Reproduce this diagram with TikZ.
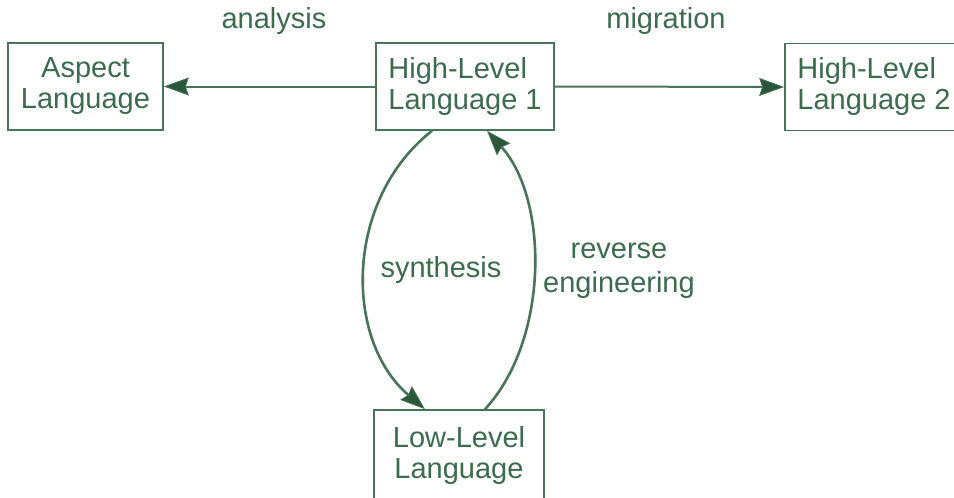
\documentclass[tikz,border=0pt]{standalone}
\usepackage{fontspec}
\setmainfont{Liberation Sans}
\usetikzlibrary{arrows.meta}
\definecolor{txtgreen}{RGB}{60,108,78}
\definecolor{linegreen}{RGB}{72,116,88}
\definecolor{headgreen}{RGB}{44,86,60}
\begin{document}
\begin{tikzpicture}[x=1pt,y=-1pt,
  every node/.style={font=\fontsize{29}{31}\selectfont, text=txtgreen},
  langbox/.style={draw=linegreen, line width=1.6pt, minimum height=87pt, inner sep=0pt},
  lbl/.style={anchor=base, inner sep=0pt},
  tipstyle/.style={-{Stealth[length=25pt,width=18pt,inset=3pt,fill=headgreen,line width=0.8pt]}},
  arr/.style={draw=linegreen, line width=2pt, tipstyle},
  curv/.style={draw=linegreen, line width=2.6pt, tipstyle}]
\useasboundingbox (0,0) rectangle (954,498);
\fill[white] (0,0) rectangle (954,498);
\node[langbox, minimum width=155pt, align=center] (asp) at (85.5,86.5) {Aspect\\Language};
\node[langbox, minimum width=178pt, align=left] (hl1) at (465,86.5) {High-Level\\Language 1};
\node[langbox, minimum width=178pt, align=left] (hl2) at (874,87) {High-Level\\Language 2};
\node[langbox, minimum width=170pt, minimum height=90pt, align=center] (low) at (459,455) {Low-Level\\Language};
\draw[arr] (hl1.west) -- (asp.east);
\draw[arr] (hl1.east) -- (hl2.west);
\draw[curv] ([xshift=-33pt]hl1.south) .. controls (344,200) and (344,340) .. ([xshift=-34pt]low.north);
\draw[curv] ([xshift=26pt]low.north) .. controls (549,340) and (549,200) .. ([xshift=22pt]hl1.south);
\node[lbl] (lan) at (274,28) {analysis};
\node[lbl] (lmi) at (666,28) {migration};
\node[lbl] (lsy) at (441,277) {synthesis};
\node[lbl] (lre1) at (619,258) {reverse};
\node[lbl] (lre2) at (619,292) {engineering};
\end{tikzpicture}
\end{document}
